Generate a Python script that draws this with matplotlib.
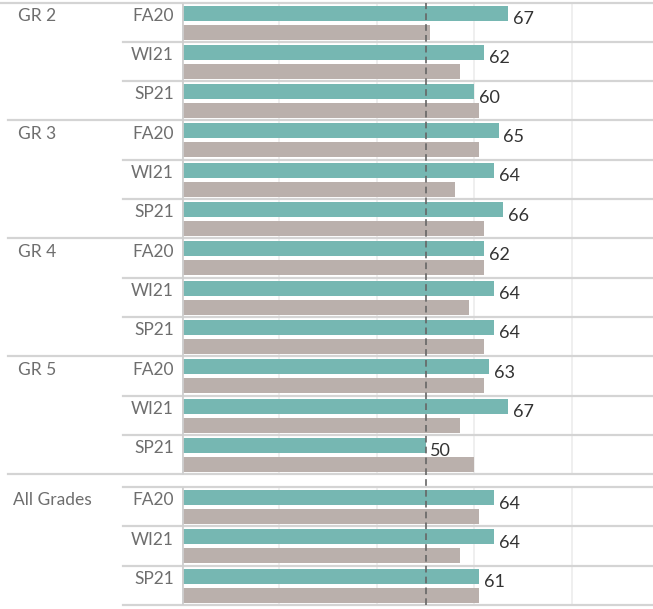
import matplotlib
matplotlib.use('Agg')
import matplotlib.pyplot as plt
from matplotlib.transforms import blended_transform_factory

# data
grades = ['GR 2', 'GR 3', 'GR 4', 'GR 5', 'All Grades']
periods = ['FA20', 'WI21', 'SP21']
school = [67, 62, 60, 65, 64, 66, 62, 64, 64, 63, 67, 50, 64, 64, 61]
norm = [51, 57, 61, 61, 56, 62, 62, 59, 62, 62, 57, 60, 61, 57, 61]
benchmark = 50

teal = '#76b7b2'
grey = '#bab0ac'
line_c = '#d4d4d4'
head_c = '#6e6e6e'

plt.rcParams['font.family'] = ['Lato', 'DejaVu Sans']

W, H = 653, 609
fig = plt.figure(figsize=(W / 100, H / 100), dpi=100)
ax = fig.add_axes([182 / W, 1 - 605 / H, 1 - 182 / W, (605 - 2.5) / H])

gap = 13 / 39.3
# row top positions (row units), a small gap before "All Grades"
tops = [i if i < 12 else i + gap for i in range(len(school))]
total = 15 + gap

ax.set_xlim(0, 96.7)
ax.set_ylim(total, 0)
ax.axis('off')

# gridlines and zero line per block (not in the gap)
for y0, y1 in [(0, 12), (12 + gap, total)]:
    ax.vlines([20, 40, 60, 80], y0, y1, color='#ececec', lw=1.2, zorder=0)
    ax.vlines(0, y0, y1, color='#cfcfcf', lw=2, zorder=3)

bh = 15 / 39.3
for i, t in enumerate(tops):
    ax.barh(t + 10.5 / 39.3, school[i], height=bh, color=teal, zorder=2)
    ax.barh(t + 29.5 / 39.3, norm[i], height=bh, color=grey, zorder=2)
    ax.text(school[i] + 1.0, t + 0.42, str(school[i]), va='center', ha='left',
            fontsize=13, color='#333333')

# reference line
ax.axvline(benchmark, color='#666666', lw=1.2, ls=(0, (4, 2.5)), zorder=4)

# separators, going out into the header area
tr = blended_transform_factory(fig.transFigure, ax.transData)
def hline(y, x0):
    ax.plot([x0 / W, 1], [y, y], transform=tr, color=line_c, lw=1.6,
             clip_on=False, zorder=1)

hline(0, 0)
for i, t in enumerate(tops):
    if i % 3 == 0 and i > 0:
        hline(t if i < 12 else 12, 8)
    elif i % 3 != 0:
        hline(t, 123)
hline(12 + gap, 123)
hline(total, 123)

# headers
for g, name in enumerate(grades):
    t = tops[g * 3]
    xg = 18 if name != 'All Grades' else 13
    ax.text(xg / W, t + 0.34, name, transform=tr, ha='left', va='center',
            fontsize=12.5, color=head_c)
for i, t in enumerate(tops):
    ax.text(174 / W, t + 0.34, periods[i % 3], transform=tr, ha='right',
            va='center', fontsize=12.5, color=head_c)

fig.savefig('out.png', dpi=100)
